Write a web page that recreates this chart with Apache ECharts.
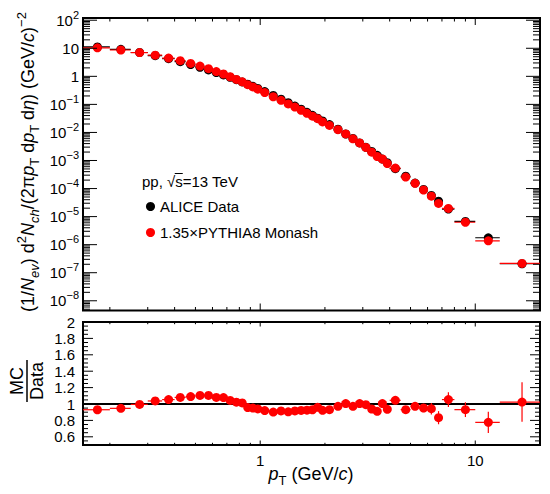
<!DOCTYPE html>
<html><head><meta charset="utf-8">
<script src="https://cdn.jsdelivr.net/npm/echarts@6/dist/echarts.min.js"></script>
<style>html,body{margin:0;padding:0;background:#fff}#c{width:550px;height:494px}</style>
</head><body><div id="c"></div>
<script>
// ---------------- data ----------------
const ptCenter = [0.175,0.225,0.275,0.325,0.375,0.425,0.475,0.525,0.575,0.625,0.675,0.725,0.775,0.825,0.875,0.925,0.975,
  1.05,1.15,1.25,1.35,1.45,1.55,1.65,1.75,1.85,1.95,
  2.1,2.3,2.5,2.7,2.9,3.1,3.3,3.5,3.7,3.9,
  4.25,4.75,5.25,5.75,6.25,6.75,7.5,9.0,11.5,16.5];
const binEdges = [0.15,0.2,0.25,0.3,0.35,0.4,0.45,0.5,0.55,0.6,0.65,0.7,0.75,0.8,0.85,0.9,0.95,1.0,
  1.1,1.2,1.3,1.4,1.5,1.6,1.7,1.8,1.9,2.0,
  2.2,2.4,2.6,2.8,3.0,3.2,3.4,3.6,3.8,4.0,
  4.5,5.0,5.5,6.0,6.5,7.0,8.0,10,13,20];
const dataYield = [11.2,9.18,7.08,5.47,4.26,3.33,2.64,2.11,1.69,1.37,1.12,0.927,0.759,0.631,0.526,0.441,0.370,
  0.286,0.207,0.153,0.115,0.0873,0.0670,0.0520,0.0407,0.0322,0.0257,
  0.0191,0.0130,0.00881,0.00610,0.00422,0.00295,0.00211,0.00153,0.00112,0.000832,
  0.000513,0.000275,0.000157,0.0000933,0.0000569,0.0000355,0.0000186,0.00000676,0.00000176,0.000000209];
const mcYield = [10.4,8.69,7.04,5.67,4.49,3.60,2.88,2.33,1.87,1.48,1.21,0.967,0.776,0.639,0.503,0.419,0.348,
  0.263,0.187,0.140,0.104,0.0799,0.0618,0.0481,0.0379,0.0309,0.0237,
  0.0178,0.0126,0.00885,0.00593,0.00424,0.00293,0.00198,0.00139,0.00113,0.000778,
  0.000536,0.000256,0.000153,0.0000887,0.0000537,0.0000296,0.0000196,0.00000629,0.00000137,0.000000214];
const ratio = [0.93,0.947,0.995,1.037,1.054,1.08,1.09,1.105,1.105,1.08,1.078,1.043,1.022,1.013,0.956,0.95,0.94,
  0.92,0.902,0.915,0.905,0.915,0.922,0.925,0.93,0.96,0.923,
  0.931,0.972,1.005,0.972,1.005,0.992,0.939,0.911,1.005,0.935,
  1.045,0.931,0.972,0.951,0.943,0.833,1.054,0.931,0.776,1.024];
const ratioErr = [0.005,0.005,0.005,0.005,0.005,0.005,0.005,0.005,0.005,0.005,0.005,0.005,0.005,0.005,0.005,0.005,0.005,
  0.005,0.005,0.005,0.005,0.005,0.005,0.005,0.005,0.005,0.005,
  0.005,0.005,0.005,0.005,0.005,0.005,0.005,0.005,0.005,0.005,
  0.015,0.02,0.03,0.05,0.07,0.08,0.09,0.09,0.13,0.24];
const unityRatio = 1;

// ---------------- ticks / labels ----------------
const xMajorTicks = [1, 10];
const xMinorTicks = [0.2,0.3,0.4,0.5,0.6,0.7,0.8,0.9,2,3,4,5,6,7,8,9];
const xTickLabels = ['1', '10'];
const yTopMajorTicks = [1e-8,1e-7,1e-6,1e-5,1e-4,1e-3,1e-2,1e-1,1,10,100];
const yTopTickLabels = ['{b|10}{s|\u22128}','{b|10}{s|\u22127}','{b|10}{s|\u22126}','{b|10}{s|\u22125}','{b|10}{s|\u22124}',
  '{b|10}{s|\u22123}','{b|10}{s|\u22122}','{b|10}{s|\u22121}','{b|1}','{b|10}','{b|10}{s|2}'];
const yTopMinorTicks = [5e-9,6e-9,7e-9,8e-9,9e-9,
  2e-8,3e-8,4e-8,5e-8,6e-8,7e-8,8e-8,9e-8,
  2e-7,3e-7,4e-7,5e-7,6e-7,7e-7,8e-7,9e-7,
  2e-6,3e-6,4e-6,5e-6,6e-6,7e-6,8e-6,9e-6,
  2e-5,3e-5,4e-5,5e-5,6e-5,7e-5,8e-5,9e-5,
  2e-4,3e-4,4e-4,5e-4,6e-4,7e-4,8e-4,9e-4,
  2e-3,3e-3,4e-3,5e-3,6e-3,7e-3,8e-3,9e-3,
  0.02,0.03,0.04,0.05,0.06,0.07,0.08,0.09,
  0.2,0.3,0.4,0.5,0.6,0.7,0.8,0.9,
  2,3,4,5,6,7,8,9,
  20,30,40,50,60,70,80,90];
const yRatioMajorTicks = [0.6,0.8,1,1.2,1.4,1.6,1.8,2];
const yRatioTickLabels = ['0.6','0.8','1','1.2','1.4','1.6','1.8','2'];
const yRatioMinorTicks = [0.55,0.65,0.7,0.75,0.85,0.9,0.95,1.05,1.1,1.15,1.25,1.3,1.35,1.45,1.5,1.55,1.65,1.7,1.75,1.85,1.9,1.95];

// ---------------- chart ----------------
const FONT = '"Liberation Sans", Arial, Helvetica, sans-serif';
const RED = '#ff0000';
const chart = echarts.init(document.getElementById('c'), null, {renderer: 'svg', width: 550, height: 494});

// overline position above "s" in the energy label (measured from the font)
const ENERGY_TEXT = 'pp, \u221as=13 TeV';
const ENERGY_X = 142, ENERGY_Y = 181;
const mctx = document.createElement('canvas').getContext('2d');
mctx.font = '15px ' + FONT;
const olStart = ENERGY_X + mctx.measureText('pp, \u221a').width - 0.5;
const olEnd = ENERGY_X + mctx.measureText('pp, \u221as').width;

const RICH_TICK = {
  b: {fontSize: 15, lineHeight: 22, fontFamily: FONT},
  s: {fontSize: 11, lineHeight: 11, verticalAlign: 'top', fontFamily: FONT}
};
const RICH_TITLE = {
  i: {fontStyle: 'italic', fontSize: 18, lineHeight: 26, fontFamily: FONT},
  si: {fontStyle: 'italic', fontSize: 13, lineHeight: 13, verticalAlign: 'bottom', fontFamily: FONT},
  sb: {fontSize: 13, lineHeight: 13, verticalAlign: 'bottom', fontFamily: FONT},
  sp: {fontSize: 13, lineHeight: 13, verticalAlign: 'top', fontFamily: FONT}
};

function errSeries(name, gi, color, ys, yerr, width) {
  return {
    name, type: 'custom', xAxisIndex: gi, yAxisIndex: gi, silent: true, clip: true,
    data: ptCenter.map((x, i) => [x, ys[i], binEdges[i], binEdges[i + 1], yerr ? yerr[i] : 0]),
    renderItem(params, api) {
      const x = api.value(0), y = api.value(1);
      const a = api.coord([api.value(2), y]), b = api.coord([api.value(3), y]);
      const ch = [{type: 'line', shape: {x1: a[0], y1: a[1], x2: b[0], y2: b[1]}, style: {stroke: color, lineWidth: width}}];
      const e = api.value(4);
      if (e > 0) {
        const c = api.coord([x, y - e]), d = api.coord([x, y + e]);
        ch.push({type: 'line', shape: {x1: c[0], y1: c[1], x2: d[0], y2: d[1]}, style: {stroke: color, lineWidth: width}});
      }
      return {type: 'group', children: ch};
    }
  };
}

function tickSeries(gi, dir, values, len) {
  return {
    type: 'custom', xAxisIndex: gi, yAxisIndex: gi, silent: true, z: 10,
    data: values.map(v => dir === 'x' ? [v, 1] : [1, v]),
    renderItem(params, api) {
      const cs = params.coordSys;
      const p = api.coord([api.value(0), api.value(1)]);
      const mk = (x1, y1, x2, y2) => ({type: 'line', shape: {x1, y1, x2, y2}, style: {stroke: '#000', lineWidth: 1}});
      if (dir === 'x') {
        return {type: 'group', children: [
          mk(p[0], cs.y + cs.height, p[0], cs.y + cs.height - len),
          mk(p[0], cs.y, p[0], cs.y + len)]};
      }
      return {type: 'group', children: [
        mk(cs.x, p[1], cs.x + len, p[1]),
        mk(cs.x + cs.width, p[1], cs.x + cs.width - len, p[1])]};
    }
  };
}

function labelSeries(gi, dir, values, labels, off) {
  return {
    type: 'custom', xAxisIndex: gi, yAxisIndex: gi, silent: true, z: 10,
    data: values.map(v => dir === 'x' ? [v, 1] : [1, v]),
    renderItem(params, api) {
      const cs = params.coordSys;
      const p = api.coord([api.value(0), api.value(1)]);
      const style = {text: labels[params.dataIndex], fill: '#000', fontSize: 15, fontFamily: FONT,
        rich: RICH_TICK, align: dir === 'x' ? 'center' : 'right', verticalAlign: 'middle'};
      if (dir === 'x') return {type: 'text', x: p[0], y: cs.y + cs.height + off, style};
      return {type: 'text', x: cs.x - off, y: p[1], style};
    }
  };
}

const hiddenAxis = {axisLine: {show: false}, axisTick: {show: false}, axisLabel: {show: false}, splitLine: {show: false}};

const option = {
  animation: false,
  backgroundColor: '#fff',
  grid: [
    {left: 83, top: 18, width: 457, height: 292.5, show: true, borderColor: '#000', borderWidth: 2, backgroundColor: 'transparent'},
    {left: 83, top: 322, width: 457, height: 123, show: true, borderColor: '#000', borderWidth: 2, backgroundColor: 'transparent'}
  ],
  xAxis: [
    Object.assign({type: 'log', logBase: 10, gridIndex: 0, min: 0.15, max: 20}, hiddenAxis),
    Object.assign({type: 'log', logBase: 10, gridIndex: 1, min: 0.15, max: 20}, hiddenAxis)
  ],
  yAxis: [
    Object.assign({type: 'log', logBase: 10, gridIndex: 0, min: 4.5e-9, max: 120}, hiddenAxis),
    Object.assign({type: 'value', gridIndex: 1, min: 0.5, max: 2.0}, hiddenAxis)
  ],
  legend: {
    orient: 'vertical', left: 146, top: 199, padding: 0, itemGap: 11, itemWidth: 9, itemHeight: 9,
    icon: 'circle', selectedMode: false,
    data: ['ALICE Data', '1.35\u00d7PYTHIA8 Monash'],
    textStyle: {fontSize: 15, fontFamily: FONT, color: '#000'}
  },
  graphic: [
    {type: 'text', x: 28, y: 162, rotation: Math.PI / 2, silent: true,
      style: {text: '(1/{i|N}{si|ev}) d{sp|2}{i|N}{si|ch}/(2\u03c0{i|p}{sb|T} d{i|p}{sb|T} d{i|\u03b7}) (GeV/{i|c}){sp|\u22122}',
        rich: RICH_TITLE, fontSize: 18, lineHeight: 26, fontFamily: FONT, fill: '#000', align: 'center', verticalAlign: 'middle'}},
    {type: 'text', x: 311, y: 474, silent: true,
      style: {text: '{i|p}{sb|T} (GeV/{i|c})', rich: RICH_TITLE, fontSize: 18, lineHeight: 26, fontFamily: FONT,
        fill: '#000', align: 'center', verticalAlign: 'middle'}},
    {type: 'text', x: ENERGY_X, y: ENERGY_Y, silent: true,
      style: {text: ENERGY_TEXT, fontSize: 15, fontFamily: FONT, fill: '#000', align: 'left', verticalAlign: 'middle'}},
    {type: 'line', silent: true, shape: {x1: olStart, y1: ENERGY_Y - 7.5, x2: olEnd, y2: ENERGY_Y - 7.5},
      style: {stroke: '#000', lineWidth: 1}},
    {type: 'group', x: 27, y: 381, rotation: Math.PI / 2, silent: true, children: [
      {type: 'text', x: 0, y: -10, style: {text: 'MC', fontSize: 18, fontFamily: FONT, fill: '#000', align: 'center', verticalAlign: 'middle'}},
      {type: 'line', shape: {x1: -21, y1: 0, x2: 21, y2: 0}, style: {stroke: '#000', lineWidth: 1.5}},
      {type: 'text', x: 0, y: 10, style: {text: 'Data', fontSize: 18, fontFamily: FONT, fill: '#000', align: 'center', verticalAlign: 'middle'}}
    ]}
  ],
  series: [
    // top panel
    errSeries('dataErr', 0, '#000', dataYield, null, 1.2),
    {name: 'ALICE Data', type: 'scatter', xAxisIndex: 0, yAxisIndex: 0, symbol: 'circle', symbolSize: 9,
      itemStyle: {color: '#000', opacity: 1}, data: ptCenter.map((x, i) => [x, dataYield[i]])},
    errSeries('mcErr', 0, RED, mcYield, null, 1.2),
    {name: '1.35\u00d7PYTHIA8 Monash', type: 'scatter', xAxisIndex: 0, yAxisIndex: 0, symbol: 'circle', symbolSize: 9,
      itemStyle: {color: RED, opacity: 1}, data: ptCenter.map((x, i) => [x, mcYield[i]])},
    // ratio panel
    {type: 'custom', xAxisIndex: 1, yAxisIndex: 1, silent: true, data: [[1, unityRatio]],
      renderItem(params, api) {
        const cs = params.coordSys;
        const p = api.coord([api.value(0), api.value(1)]);
        return {type: 'line', shape: {x1: cs.x, y1: p[1], x2: cs.x + cs.width, y2: p[1]}, style: {stroke: '#000', lineWidth: 2}};
      }},
    errSeries('ratioErr', 1, RED, ratio, ratioErr, 1.2),
    {name: 'ratio', type: 'scatter', xAxisIndex: 1, yAxisIndex: 1, symbol: 'circle', symbolSize: 9,
      itemStyle: {color: RED, opacity: 1}, data: ptCenter.map((x, i) => [x, ratio[i]])},
    // ticks and labels
    tickSeries(0, 'x', xMajorTicks, 7),
    tickSeries(0, 'x', xMinorTicks, 3.5),
    tickSeries(0, 'y', yTopMajorTicks, 14),
    tickSeries(0, 'y', yTopMinorTicks, 7),
    labelSeries(0, 'y', yTopMajorTicks, yTopTickLabels, 4),
    tickSeries(1, 'x', xMajorTicks, 4.5),
    tickSeries(1, 'x', xMinorTicks, 2.2),
    tickSeries(1, 'y', yRatioMajorTicks, 10),
    tickSeries(1, 'y', yRatioMinorTicks, 5),
    labelSeries(1, 'y', yRatioMajorTicks, yRatioTickLabels, 8),
    labelSeries(1, 'x', xMajorTicks, xTickLabels, 15)
  ]
};
chart.setOption(option);
</script>
</body></html>
